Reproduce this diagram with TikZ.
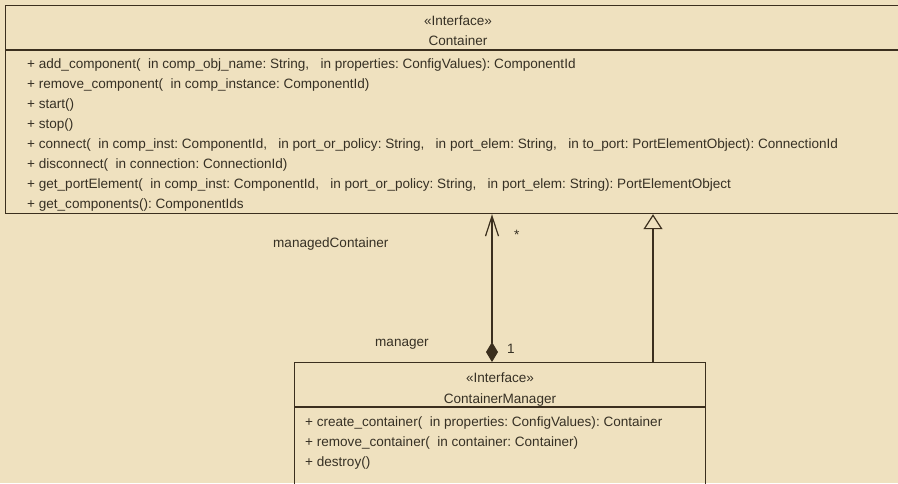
\documentclass[tikz,border=0pt]{standalone}
\usepackage{fontspec}
\setmainfont{Liberation Sans}
\usetikzlibrary{positioning,arrows.meta}
\definecolor{umlbg}{HTML}{EFE1BF}
\definecolor{umlline}{HTML}{3B2F1E}
\definecolor{umltext}{HTML}{363024}
\frenchspacing
\tikzset{
  cls/.style    = {draw=umlline, line width=1.2pt, rectangle, inner sep=0pt,
                   anchor=north west},
  ster/.style   = {text=umltext, font=\fontsize{13.55}{16}\selectfont,
                   anchor=base, inner sep=0pt},
  meth/.style   = {text=umltext, font=\fontsize{13.55}{16}\selectfont,
                   anchor=base west, inner sep=0pt},
  lbl/.style    = {text=umltext, font=\fontsize{13.55}{16}\selectfont,
                   anchor=base west, inner sep=0pt},
  sep/.style    = {draw=umlline, line width=1.2pt},
  assoc/.style  = {draw=umlline, line width=1.2pt,
                   {Diamond[length=20pt,width=12pt]}-{Straight Barb[length=20pt,width=13pt]}},
  gen/.style    = {draw=umlline, line width=1.2pt,
                   -{Triangle[open,length=15pt,width=19pt,fill=umlbg]}},
}

\begin{document}
\begin{tikzpicture}[x=1pt,y=-1pt]
\path[use as bounding box, fill=umlbg] (0,0) rectangle (898,483);
\clip (0,0) rectangle (898,483);

% ===== Container =====
\node[cls, minimum width=906pt, minimum height=208.5pt] (cont) at (5,4.5) {};
\draw[sep] ([yshift=-45.5pt]cont.north west) -- ([yshift=-45.5pt]cont.north east);
\node[ster] (cont-st) at (458,25) {«Interface»};
\node[ster] (cont-nm) at (458,45) {Container};
\foreach \t [count=\i from 0] in {
  {+ add\_component(~~in comp\_obj\_name: String,~~~in properties: ConfigValues): ComponentId},
  {+ remove\_component(~~in comp\_instance: ComponentId)},
  {+ start()},
  {+ stop()},
  {+ connect(~~in comp\_inst: ComponentId,~~~in port\_or\_policy: String,~~~in port\_elem: String,~~~in to\_port: PortElementObject): ConnectionId},
  {+ disconnect(~~in connection: ConnectionId)},
  {+ get\_portElement(~~in comp\_inst: ComponentId,~~~in port\_or\_policy: String,~~~in port\_elem: String): PortElementObject},
  {+ get\_components(): ComponentIds}}
  \node[meth] (cont-m\i) at (27,{68+20*\i}) {\t};

% ===== ContainerManager =====
\node[cls, minimum width=411pt, minimum height=140pt] (mgr) at (294,362) {};
\draw[sep] ([yshift=-45pt]mgr.north west) -- ([yshift=-45pt]mgr.north east);
\node[ster] (mgr-st) at (500,382) {«Interface»};
\node[ster] (mgr-nm) at (500,403) {ContainerManager};
\foreach \t [count=\i from 0] in {
  {+ create\_container(~~in properties: ConfigValues): Container},
  {+ remove\_container(~~in container: Container)},
  {+ destroy()}}
  \node[meth] (mgr-m\i) at (305,{426+20*\i}) {\t};

% ===== connections =====
\coordinate (ax) at (492,0);
\coordinate (gx) at (653,0);
\draw[assoc] (mgr.north -| ax) -- (cont.south -| ax);
\draw[gen] (mgr.north -| gx) -- (cont.south -| gx);
\node[lbl] (l-mc) at (273,247) {managedContainer};
\node[lbl] (l-star) at (514,239) {*};
\node[lbl] (l-mgr) at (375,346) {manager};
\node[lbl] (l-one) at (507,353) {1};
\end{tikzpicture}
\end{document}
